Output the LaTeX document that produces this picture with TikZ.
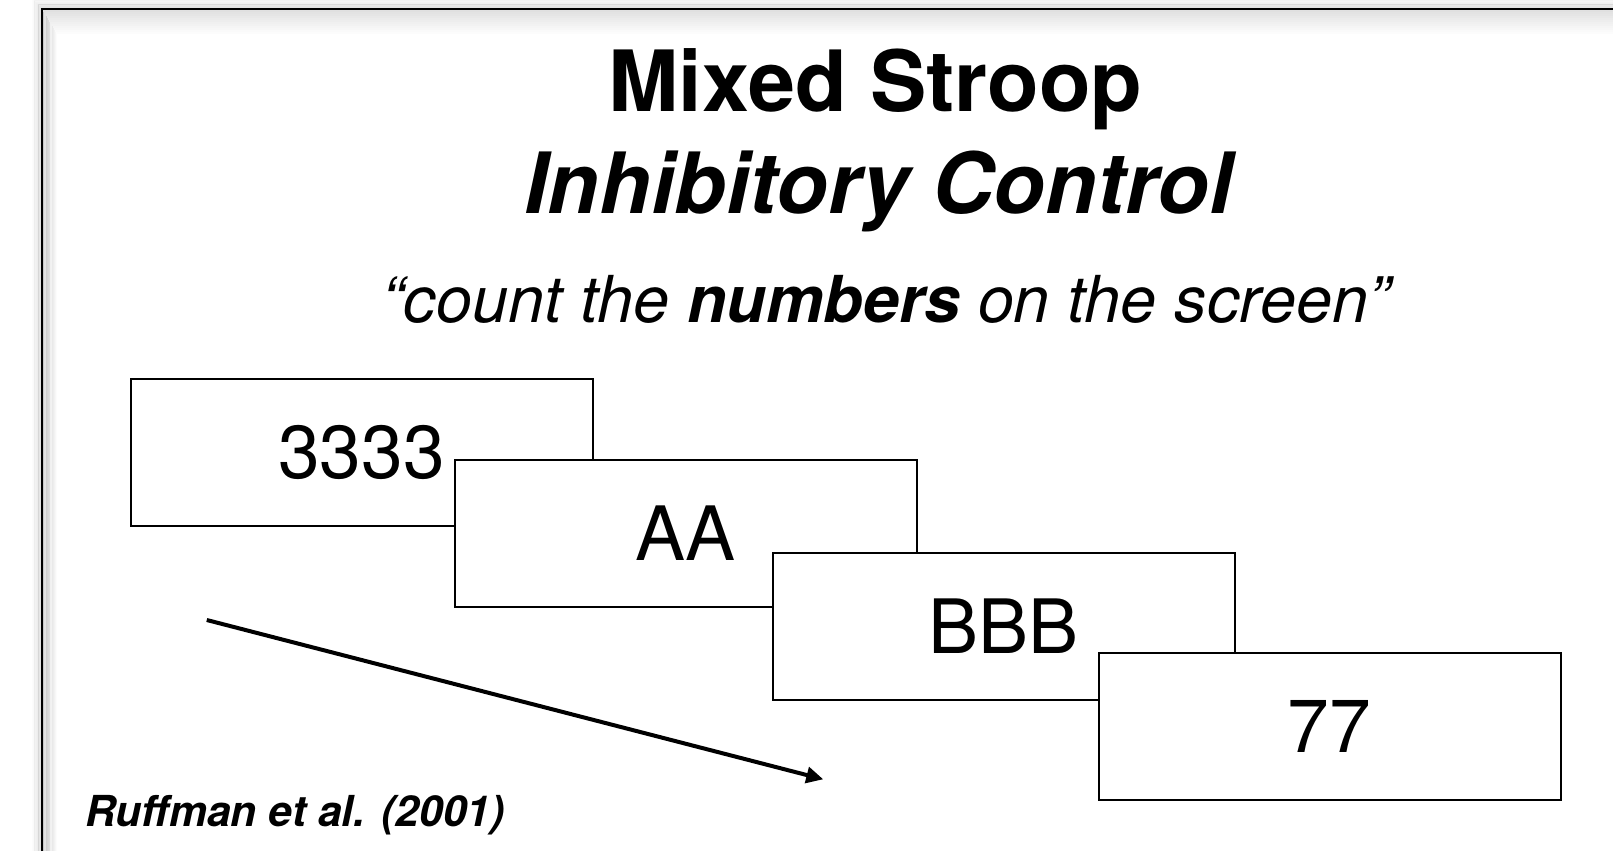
\documentclass[tikz,border=0pt]{standalone}
\usepackage{fontspec}
\setmainfont{TeX Gyre Heros}
\usetikzlibrary{arrows.meta}
\tikzset{
  card/.style={draw=black, fill=white, line width=2pt, minimum width=462pt, minimum height=147pt, inner sep=0pt, font=\fontsize{75}{80}\selectfont},
  frameline/.style={line width=2.5pt, draw=black},
  timearrow/.style={line width=4pt, -{Triangle[length=17pt,width=16pt]}},
}
\begin{document}
\begin{tikzpicture}[x=1pt,y=-1pt]
\useasboundingbox (0,0) rectangle (1613,851);
% soft shadow of the slide frame
\foreach \i/\o in {1/0.12,2/0.11,3/0.10,4/0.09,5/0.08,6/0.07,7/0.06,8/0.05,9/0.04,10/0.03,11/0.02,12/0.01}{
  \draw[line width=2pt, black, opacity=\o] (42+\i*1.2,851) -- (42+\i*1.2,9+\i*2) -- (1613,9+\i*2);
  \draw[line width=1pt, black, opacity=\o] (42-\i*0.8,851) -- (42-\i*0.8,9-\i*0.8) -- (1613,9-\i*0.8);
}
\draw[frameline] (42,851) -- (42,9) -- (1613,9);

\node[anchor=base, font=\fontsize{84.5}{90}\selectfont\bfseries] (title) at (875.5,111) {Mixed Stroop};
\node[anchor=base, font=\fontsize{84.5}{90}\selectfont\bfseries\itshape] (subtitle) at (878.5,213) {Inhibitory Control};
\node[anchor=base, font=\fontsize{64.7}{70}\selectfont\itshape] (instr) at (886,322) {“count the \textbf{numbers} on the screen”};

\node[card] (b1) at (361.5,452) {3333};
\node[card] (b2) at (685.6,533.4) {AA};
\node[card] (b3) at (1003.5,626.5) {BBB};
\node[card] (b4) at (1329.6,726.2) {77};

\coordinate (as) at (206.8,620);
\coordinate (ae) at (823.3,779.3);
\draw[timearrow] (as) -- (ae);

\node[anchor=base west, inner sep=0pt, font=\fontsize{42.7}{46}\selectfont\bfseries\itshape] (cite) at (85,826) {Ruffman et al. (2001)};
\end{tikzpicture}
\end{document}
